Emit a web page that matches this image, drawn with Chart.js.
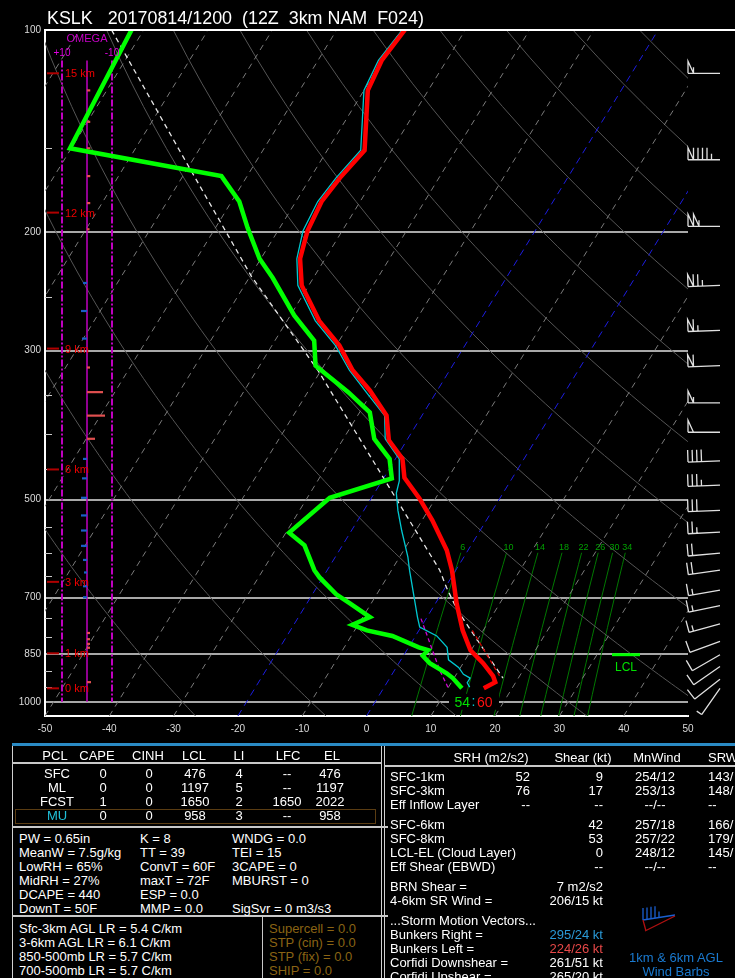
<!DOCTYPE html>
<html>
<head>
<meta charset="utf-8">
<title>KSLK sounding</title>
<script src="https://cdn.jsdelivr.net/npm/chart.js@4.4.1/dist/chart.umd.min.js"></script>
<style>
  html, body { margin: 0; padding: 0; background: #000; }
  body { position: relative; width: 735px; height: 978px; overflow: hidden;
         font-family: "Liberation Sans", Arial, Helvetica, sans-serif; color: #fff; }
  #skew { position: absolute; left: 0; top: 0; }
  #title { position: absolute; left: 47px; top: 8px; font-size: 17.9px; line-height: 20px; white-space: pre; }
  .t { position: absolute; font-size: 13px; line-height: 14px; white-space: pre; }
  .ln { position: absolute; }
</style>
</head>
<body>
<canvas id="skew" width="735" height="745"></canvas>
<div id="title">KSLK   20170814/1200  (12Z  3km NAM  F024)</div>
<div id="panel"></div>
<svg style="position:absolute;left:636px;top:902px" width="45" height="36">
  <polyline points="7,18 39,13" stroke="#1a5fd0" stroke-width="1.3" fill="none"/>
  <path d="M7,18 L7,6 M11,17.4 L11,5.4 M15,16.8 L15,4.8 M19,16.2 L19,4.2 M23,15.6 L23,9.6" stroke="#1a5fd0" stroke-width="1.3" fill="none"/>
  <path d="M9,29 L39,14 M7,18 L10,29" stroke="#b01010" stroke-width="1.3" fill="none"/>
</svg>
<script>
// skew-T geometry
const SKEW = 64;          // deg C of skew per decade of pressure
const P_BOT = 1050, P_TOP = 100;

const isobars = [100, 200, 300, 500, 700, 850, 1000];
const minorIsobars = [150, 250, 350, 400, 450, 550, 600, 650, 750, 800, 900, 950];

// temperature (C)
const tempPres = [100, 111, 123, 151, 166, 180, 199, 219, 240, 271, 295, 321, 344, 375, 408, 435, 464, 498, 537, 595, 637, 714, 783, 838, 876, 916, 935, 955];
const tempC = [-59.4, -60.1, -59.4, -54.2, -55.4, -56.0, -55.4, -53.9, -51.1, -45.0, -39.5, -35.1, -30.5, -25.5, -22.8, -18.9, -16.8, -12.5, -8.4, -3.3, -0.6, 3.3, 6.8, 9.9, 13.1, 15.9, 16.8, 15.6];

// dewpoint (C)
const dwptPres = [100, 150, 165, 180, 197, 219, 234, 266, 290, 316, 346, 371, 406, 435, 465, 497, 560, 585, 637, 653, 692, 714, 748, 768, 783, 798, 830, 838, 854, 876, 907, 922, 955];
const dwptC = [-101.9, -100.2, -74.0, -68.8, -65.0, -60.2, -56.3, -49.4, -43.9, -41.3, -33.7, -28.4, -25.2, -20.9, -18.7, -26.5, -29.5, -25.9, -22.0, -20.5, -16.3, -13.3, -8.9, -10.9, -8.1, -3.6, 1.6, 3.3, 3.0, 4.8, 8.4, 9.8, 12.2];

// wetbulb (C)
const wetbPres = [100, 111, 123, 151, 166, 180, 199, 219, 240, 271, 295, 321, 346, 375, 406, 435, 469, 489, 519, 556, 609, 637, 707, 748, 774, 798, 830, 866, 889, 910, 922, 937, 951];
const wetbC = [-59.8, -60.6, -60.0, -54.8, -56.0, -56.6, -56.1, -54.4, -51.7, -45.6, -40.1, -35.6, -30.9, -25.8, -23.5, -19.4, -17.3, -16.6, -14.7, -12.2, -8.7, -7.2, -3.5, -1.5, -0.2, 3.3, 6.0, 7.4, 9.7, 11.1, 12.5, 12.5, 13.3];

// parcel trace, virtual temp parcel, downdraft
const parcelPres = [100, 151, 233, 321, 637, 676, 730, 922];
const parcelC = [-105.0, -83.0, -59.7, -40.5, -2.5, 0.2, 4.0, 17.6];
const vtPres = [783, 919];
const vtC = [8.3, 17.1];
const ddPres = [752, 899, 951];
const ddC = [-0.8, 7.1, 9.9];

// omega (microbar/s)
const omegaPres = [123, 137, 150, 165, 181, 198, 238, 262, 288, 318, 346, 375, 406, 435, 465, 497, 528, 556, 586, 615, 642, 673, 699, 790, 807, 820, 831, 935];
const omegaVal = [-1.3, -1.3, -1.3, -1.3, -1.3, -1.0, 1.6, 2.4, 2.0, -1.2, -6.4, -7.2, -3.2, 1.6, 2.0, 2.4, 2.4, 2.4, 2.4, 1.6, 1.2, 1.6, 1.6, -1.2, -1.2, -1.2, -1.2, -1.6];

// height markers
const kmPres = [955, 847, 663, 451, 298, 187, 116];
const kmLabel = ['0 km', '1 km', '3 km', '6 km', '9 km', '12 km', '15 km'];

const mixRatios = [6, 10, 14, 18, 22, 26, 30, 34];
const lclPres = 851;
const sfcTdF = '54', sfcTF = '60';

// winds
const windPres = [116, 156, 196, 240, 280, 316, 359, 397, 438, 476, 519, 559, 601, 637, 682, 719, 766, 813, 851, 886, 926, 955];
const windDir = [270, 270, 270, 268, 268, 268, 270, 270, 268, 268, 268, 267, 265, 262, 260, 258, 255, 250, 240, 235, 232, 215];
const windSpd = [55, 95, 105, 75, 65, 60, 55, 50, 40, 35, 30, 25, 20, 20, 15, 15, 15, 12, 12, 10, 10, 5];

function skewX(t, p) { return t + SKEW * Math.log10(P_BOT / p); }

function profile(pres, temps, color, width, dash) {
  return {
    data: pres.map((p, i) => ({ x: skewX(temps[i], p), y: p })),
    borderColor: color, borderWidth: width, borderDash: dash || [],
    pointRadius: 0, showLine: true, fill: false, order: 0
  };
}
function bgLine(pts, color, width, dash) {
  return { data: pts, borderColor: color, borderWidth: width, borderDash: dash || [],
           pointRadius: 0, showLine: true, fill: false, order: 10 };
}

const datasets = [
  profile(tempPres, tempC, '#ff0000', 4.5),
  profile(dwptPres, dwptC, '#00ff00', 4.5),
  profile(wetbPres, wetbC, '#00c8d0', 1.3),
  profile(vtPres, vtC, '#d00000', 1.2, [4, 3]),
  profile(ddPres, ddC, '#d000d0', 1.3, [4, 3]),
  profile(parcelPres, parcelC, '#e8e8e8', 1.3, [5, 4])
];

// isotherms
for (let t = -130; t <= 50; t += 10) {
  const blue = (t === 0 || t === -20);
  datasets.push(bgLine([{ x: skewX(t, P_BOT), y: P_BOT }, { x: skewX(t, P_TOP), y: P_TOP }],
    blue ? '#1c1ce0' : '#7a7a7a', 1, blue ? [7, 5] : [6, 5]));
}
// dry adiabats, every 20 C
for (let th = -30; th <= 230; th += 20) {
  const pts = [];
  for (let p = P_BOT; p >= P_TOP; p -= 10) {
    const t = (th + 273.15) * Math.pow(p / 1000, 0.2857) - 273.15;
    pts.push({ x: skewX(t, p), y: p });
  }
  datasets.push(bgLine(pts, '#555555', 1));
}
// mixing ratio lines
function mixT(w, p) {
  const e = w * p / (622 + w), l = Math.log(e / 6.112);
  return 243.5 * l / (17.67 - l);
}
mixRatios.forEach(w => {
  const pts = [];
  for (let p = 600; p <= P_BOT; p += 25) pts.push({ x: skewX(mixT(w, p), p), y: p });
  datasets.push(bgLine(pts, '#007800', 1));
});
// omega axis lines
[[0, '#c000c0', []], [10, '#c000c0', [7, 2, 2, 2]], [-10, '#c000c0', [7, 2, 2, 2]]].forEach(o => {
  datasets.push({ data: [{ x: o[0], y: 111 }, { x: o[0], y: 1000 }], xAxisID: 'xo',
    borderColor: o[1], borderWidth: o[0] === 0 ? 1.5 : 2, borderDash: o[2], pointRadius: 0, showLine: true, order: 5 });
});
omegaPres.forEach((p, i) => {
  const v = omegaVal[i];
  datasets.push({ data: [{ x: 0, y: p }, { x: v, y: p }], xAxisID: 'xo',
    borderColor: v < 0 ? '#e05050' : '#1a5fc8', borderWidth: 2.2, pointRadius: 0, showLine: true, order: 4 });
});

function drawBarb(ctx, x0, y0, dir, spd) {
  const L = 32, H = 12, G = 4.5;
  const r = dir * Math.PI / 180;
  const sx = Math.sin(r), sy = -Math.cos(r);
  const bx = -sy, by = sx;
  ctx.beginPath();
  ctx.moveTo(x0, y0);
  ctx.lineTo(x0 + sx * L, y0 + sy * L);
  let d = L, v = Math.round(spd / 5) * 5;
  while (v >= 50) {
    const px = x0 + sx * d, py = y0 + sy * d;
    ctx.moveTo(px, py);
    ctx.lineTo(px + bx * H, py + by * H);
    d -= G + 1;
    ctx.lineTo(x0 + sx * d, y0 + sy * d);
    v -= 50;
  }
  while (v >= 10) {
    const px = x0 + sx * d, py = y0 + sy * d;
    ctx.moveTo(px, py);
    ctx.lineTo(px + bx * H, py + by * H);
    d -= G;
    v -= 10;
  }
  if (v >= 5) {
    const px = x0 + sx * d, py = y0 + sy * d;
    ctx.moveTo(px, py);
    ctx.lineTo(px + bx * H / 2, py + by * H / 2);
  }
  ctx.stroke();
}

const decor = {
  id: 'decor',
  beforeDraw(c) {
    const ctx = c.ctx;
    ctx.save();
    ctx.fillStyle = '#000';
    ctx.fillRect(0, 0, c.width, c.height);
    ctx.restore();
  },
  afterDatasetsDraw(c) {
    const { ctx, chartArea: a, scales } = c;
    const y = scales.y, x = scales.x;
    ctx.save();
    // top frame line
    ctx.strokeStyle = '#fff'; ctx.lineWidth = 2;
    ctx.beginPath(); ctx.moveTo(a.left, a.top); ctx.lineTo(735, a.top); ctx.stroke();
    // minor pressure ticks
    ctx.strokeStyle = '#c8c8c8'; ctx.lineWidth = 1;
    minorIsobars.forEach(p => {
      const py = Math.round(y.getPixelForValue(p)) + 0.5;
      ctx.beginPath(); ctx.moveTo(a.left, py); ctx.lineTo(a.left + 7, py); ctx.stroke();
    });
    // height labels
    ctx.font = '11px "Liberation Sans", Arial';
    ctx.textBaseline = 'middle'; ctx.textAlign = 'left';
    kmPres.forEach((p, i) => {
      const py = y.getPixelForValue(p);
      ctx.strokeStyle = '#b00000'; ctx.lineWidth = 2;
      ctx.beginPath(); ctx.moveTo(a.left + 2, py); ctx.lineTo(a.left + 14, py); ctx.stroke();
      ctx.fillStyle = '#ee0000';
      ctx.fillText(kmLabel[i], a.left + 20, py + 1);
    });
    // omega labels
    const xo = scales.xo;
    ctx.fillStyle = '#c800c8'; ctx.textAlign = 'center';
    ctx.font = '11px "Liberation Sans", Arial';
    ctx.fillText('OMEGA', xo.getPixelForValue(0), 39);
    ctx.fillStyle = '#e000e0';
    ctx.font = '10px "Liberation Sans", Arial';
    ctx.fillText('+10', xo.getPixelForValue(10), 53);
    ctx.fillText('-10', xo.getPixelForValue(-10), 53);
    // mixing ratio labels
    ctx.fillStyle = '#00a000'; ctx.font = '9px "Liberation Sans", Arial';
    mixRatios.forEach(w => {
      ctx.fillText(String(w), x.getPixelForValue(skewX(mixT(w, 600), 600)) + 2, y.getPixelForValue(600) - 5);
    });
    // LCL marker
    const ly = y.getPixelForValue(lclPres);
    ctx.strokeStyle = '#00ff00'; ctx.lineWidth = 3;
    ctx.beginPath(); ctx.moveTo(612, ly); ctx.lineTo(640, ly); ctx.stroke();
    ctx.fillStyle = '#00e000'; ctx.font = '12px "Liberation Sans", Arial';
    ctx.fillText('LCL', 626, ly + 13);
    // surface Td:T in F
    const sy = y.getPixelForValue(1000);
    ctx.fillStyle = '#000';
    ctx.fillRect(449, sy - 8, 50, 16);
    ctx.font = '14px "Liberation Sans", Arial';
    ctx.textAlign = 'right'; ctx.fillStyle = '#00e000'; ctx.fillText(sfcTdF, 470, sy + 1);
    ctx.textAlign = 'center'; ctx.fillStyle = '#00c8d0'; ctx.fillText(':', 473.5, sy);
    ctx.textAlign = 'left'; ctx.fillStyle = '#ff1010'; ctx.fillText(sfcTF, 477, sy + 1);
    // wind barbs
    ctx.strokeStyle = '#e0e0e0'; ctx.lineWidth = 1.3;
    windPres.forEach((p, i) => drawBarb(ctx, 720, y.getPixelForValue(p), windDir[i], windSpd[i]));
    ctx.restore();
  }
};

new Chart(document.getElementById('skew'), {
  type: 'scatter',
  data: { datasets: datasets },
  options: {
    responsive: false,
    animation: false,
    events: [],
    layout: { padding: { top: 30, right: 47, left: 0, bottom: 0 } },
    plugins: { legend: { display: false }, tooltip: { enabled: false } },
    scales: {
      x: {
        type: 'linear', min: -50, max: 50,
        ticks: { stepSize: 10, autoSkip: false, maxRotation: 0, color: '#dcdcdc', padding: 7,
                 font: { size: 10, family: '"Liberation Sans", Arial' } },
        grid: { display: false, drawTicks: false },
        border: { display: true, color: '#fff', width: 2 },
        afterFit: s => { s.height = 29; }
      },
      xo: { type: 'linear', axis: 'x', display: false, min: -240.4, max: 16.8, reverse: true },
      y: {
        type: 'logarithmic', min: P_TOP, max: P_BOT, reverse: true,
        afterBuildTicks: s => { s.ticks = isobars.map(v => ({ value: v })); },
        ticks: { callback: v => String(v), color: '#dcdcdc', padding: 4,
                 font: { size: 10, family: '"Liberation Sans", Arial' } },
        grid: { color: '#a8a8a8', lineWidth: 2, drawTicks: false },
        border: { display: true, color: '#fff', width: 2 },
        afterFit: s => { s.width = 45; }
      }
    }
  },
  plugins: [decor]
});

// ---- text panel ----
const panel = document.getElementById('panel');
function txt(x, y, s, align, color) {
  const d = document.createElement('div');
  d.className = 't';
  d.textContent = s;
  let left = x;
  if (align === 'c') { left = x - 150; d.style.width = '300px'; d.style.textAlign = 'center'; }
  else if (align === 'r') { left = x - 300; d.style.width = '300px'; d.style.textAlign = 'right'; }
  d.style.left = left + 'px';
  d.style.top = (y - 7) + 'px';
  if (color) d.style.color = color;
  panel.appendChild(d);
}
function rule(x, y, w, h, color) {
  const d = document.createElement('div');
  d.className = 'ln';
  d.style.left = x + 'px'; d.style.top = y + 'px';
  d.style.width = w + 'px'; d.style.height = h + 'px';
  d.style.background = color;
  panel.appendChild(d);
}

rule(12, 743, 723, 3, '#2a8ac4');
rule(12, 746, 1, 232, '#d0d0d0');
rule(381, 746, 1, 232, '#d0d0d0');
rule(384, 746, 1, 232, '#d0d0d0');
rule(12, 762, 370, 2, '#c8c8c8');
rule(12, 826, 376, 2, '#c8c8c8');
rule(12, 915, 376, 2, '#c8c8c8');
rule(262, 916, 1, 62, '#c8c8c8');
rule(384, 765, 351, 2, '#c8c8c8');
const mu = document.createElement('div');
mu.style.cssText = 'position:absolute;left:15px;top:809px;width:359px;height:13px;border:1px solid #5a3c12';
panel.appendChild(mu);

const pclHead = ['PCL', 'CAPE', 'CINH', 'LCL', 'LI', 'LFC', 'EL'];
const pclHeadX = [55, 97, 148, 194, 239, 288, 332];
const pclColX = [57, 103, 149, 195, 239, 287, 330];
const pclRows = [
  ['SFC', '0', '0', '476', '4', '--', '476'],
  ['ML', '0', '0', '1197', '5', '--', '1197'],
  ['FCST', '1', '0', '1650', '2', '1650', '2022'],
  ['MU', '0', '0', '958', '3', '--', '958']
];
pclHead.forEach((h, i) => txt(pclHeadX[i], 756, h, 'c'));
pclRows.forEach((r, j) => r.forEach((v, i) =>
  txt(pclColX[i], 774 + j * 14, v, 'c', (j === 3 && i === 0) ? '#20c0d8' : null)));

const idxCol1 = ['PW = 0.65in', 'MeanW = 7.5g/kg', 'LowRH = 65%', 'MidRH = 27%', 'DCAPE = 440', 'DownT = 50F'];
const idxCol2 = ['K = 8', 'TT = 39', 'ConvT = 60F', 'maxT = 72F', 'ESP = 0.0', 'MMP = 0.0'];
const idxCol3 = ['WNDG = 0.0', 'TEI = 15', '3CAPE = 0', 'MBURST = 0', '', 'SigSvr = 0 m3/s3'];
idxCol1.forEach((s, i) => txt(19, 839 + i * 14, s));
idxCol2.forEach((s, i) => txt(140, 839 + i * 14, s));
idxCol3.forEach((s, i) => txt(232, 839 + i * 14, s));

const lapseRates = ['Sfc-3km AGL LR = 5.4 C/km', '3-6km AGL LR = 6.1 C/km', '850-500mb LR = 5.7 C/km', '700-500mb LR = 5.7 C/km'];
const svrParams = ['Supercell = 0.0', 'STP (cin) = 0.0', 'STP (fix) = 0.0', 'SHIP = 0.0'];
lapseRates.forEach((s, i) => txt(19, 929 + i * 14, s));
svrParams.forEach((s, i) => txt(269, 929 + i * 14, s, 'l', '#8a6414'));

txt(491, 758, 'SRH (m2/s2)', 'c');
txt(583, 758, 'Shear (kt)', 'c');
txt(657, 758, 'MnWind', 'c');
txt(708, 758, 'SRW');
const kinRows = [
  ['SFC-1km', '52', '9', '254/12', '143/', 777],
  ['SFC-3km', '76', '17', '253/13', '148/', 791],
  ['Eff Inflow Layer', '--', '--', '--/--', '--', 805],
  ['SFC-6km', '', '42', '257/18', '166/', 825],
  ['SFC-8km', '', '53', '257/22', '179/', 839],
  ['LCL-EL (Cloud Layer)', '', '0', '248/12', '145/', 853],
  ['Eff Shear (EBWD)', '', '--', '--/--', '--', 867]
];
kinRows.forEach(r => {
  txt(390, r[5], r[0]);
  txt(530, r[5], r[1], 'r');
  txt(603, r[5], r[2], 'r');
  txt(655, r[5], r[3], 'c');
  txt(708, r[5], r[4]);
});
const motionRows = [
  ['BRN Shear =', '7 m2/s2', null, 887],
  ['4-6km SR Wind =', '206/15 kt', null, 901],
  ['...Storm Motion Vectors...', '', null, 921],
  ['Bunkers Right =', '295/24 kt', '#2a9ad8', 935],
  ['Bunkers Left =', '224/26 kt', '#e84848', 949],
  ['Corfidi Downshear =', '261/51 kt', null, 963],
  ['Corfidi Upshear =', '265/20 kt', null, 977]
];
motionRows.forEach(r => {
  txt(390, r[3], r[0]);
  txt(603, r[3], r[1], 'r', r[2]);
});
txt(676, 958, '1km & 6km AGL', 'c', '#1a7ad0');
txt(676, 972, 'Wind Barbs', 'c', '#1a7ad0');
</script>
</body>
</html>
